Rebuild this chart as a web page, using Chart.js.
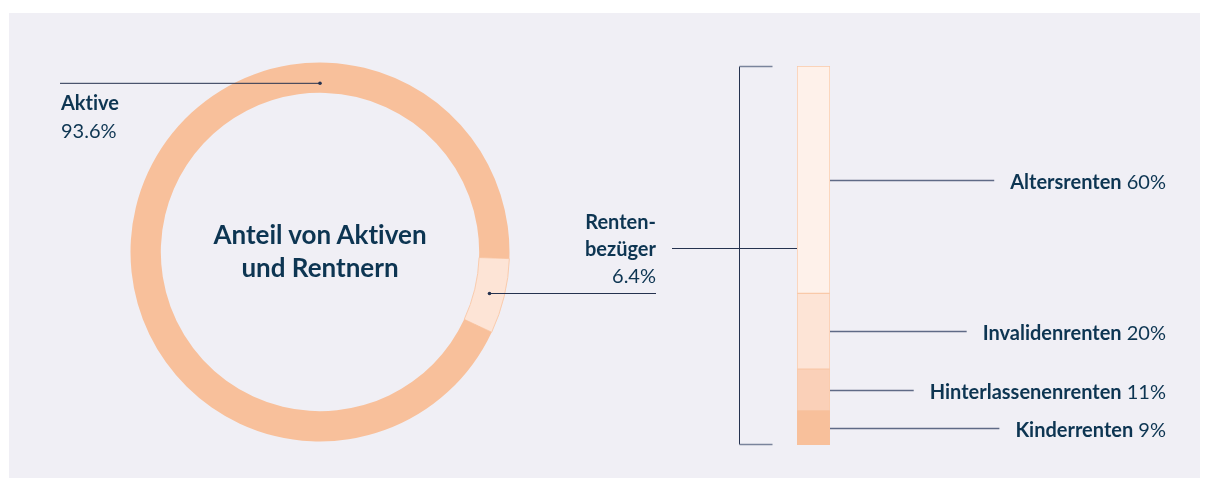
<!DOCTYPE html>
<html>
<head>
<meta charset="UTF-8">
<title>Anteil von Aktiven und Rentnern</title>
<script src="https://cdn.jsdelivr.net/npm/chart.js"></script>
<style>
  body { margin: 0; background: #fff; width: 1210px; height: 488px; overflow: hidden;
         font-family: Lato, "Open Sans", sans-serif; color: #0d3552;
         font-variant-ligatures: none; }
  .panel { position: absolute; left: 9px; top: 13px; width: 1191px; height: 465px; background: #f0eff5; }
  canvas { position: absolute; }
  .lbl { position: absolute; font-size: 20px; line-height: 28px; white-space: nowrap; }
  .lbl b { font-weight: 700; }
  .right { text-align: right; }
  .title { position: absolute; left: 150px; width: 340px; top: 218px; text-align: center;
           font-size: 26px; font-weight: 700; line-height: 33px; }
</style>
</head>
<body>
<div class="panel"></div>
<canvas id="ring" width="690" height="466" style="left:10px;top:12px"></canvas>
<canvas id="stack" width="550" height="466" style="left:650px;top:12px"></canvas>

<div class="title">Anteil von Aktiven<br>und Rentnern</div>
<div class="lbl" style="left:61px;top:88px"><b>Aktive</b><br>93.6%</div>
<div class="lbl right" style="right:554px;top:208px;line-height:27px"><b>Renten-<br>bezüger</b><br>6.4%</div>
<div id="barLabels"></div>

<script>
  // Anteil Aktive / Rentenbezüger (%)
  const ringLabels = ['Rentenbezüger', 'Aktive'];
  const ringValues = [6.4, 93.6];
  const ringColors = ['#fde4d6', '#f8c09b'];

  // Aufteilung der Renten (%), von unten nach oben
  const rentLabels = ['Kinderrenten', 'Hinterlassenenrenten', 'Invalidenrenten', 'Altersrenten'];
  const rentValues = [9, 11, 20, 60];
  const rentColors = ['#f8c09b', '#fad0b8', '#fde4d6', '#fef1ea'];

  const lineDark = '#25324f';
  const lineGray = '#5f6a86';

  // Ring-Diagramm mit Hinweislinien
  const ringLines = {
    id: 'ringLines',
    afterDraw(chart) {
      const ctx = chart.ctx;
      const arcs = chart.getDatasetMeta(0).data;
      const a0 = arcs[1];
      const a1 = arcs[0];
      ctx.save();
      ctx.strokeStyle = lineDark;
      ctx.fillStyle = lineDark;
      ctx.lineWidth = 1;
      // Aktive: Punkt oben im Ring
      const r0 = a0.innerRadius + 10;
      const p0 = { x: a0.x, y: a0.y - r0 };
      ctx.beginPath();
      ctx.moveTo(50, p0.y + 0.5);
      ctx.lineTo(p0.x, p0.y + 0.5);
      ctx.stroke();
      ctx.beginPath(); ctx.arc(p0.x, p0.y + 0.5, 1.8, 0, Math.PI * 2); ctx.fill();
      // Rentenbezüger: Punkt in der Mitte des kleinen Segments
      const mid = (a1.startAngle + a1.endAngle) / 2;
      const r1 = (a1.innerRadius + a1.outerRadius) / 2;
      const p1 = { x: a1.x + Math.cos(mid) * r1, y: Math.round(a1.y + Math.sin(mid) * r1) + 0.5 };
      ctx.beginPath();
      ctx.moveTo(p1.x, p1.y);
      ctx.lineTo(646, p1.y);
      ctx.stroke();
      ctx.beginPath(); ctx.arc(p1.x, p1.y, 1.8, 0, Math.PI * 2); ctx.fill();
      ctx.restore();
    }
  };

  new Chart(document.getElementById('ring'), {
    type: 'doughnut',
    data: {
      labels: ringLabels,
      datasets: [{
        data: ringValues,
        backgroundColor: ringColors,
        borderColor: ['#f9cbad', '#f8c09b'],
        borderWidth: [1, 0]
      }]
    },
    options: {
      responsive: false,
      animation: false,
      rotation: 92,
      cutout: '84%',
      layout: { padding: { left: 120, top: 50, right: 190, bottom: 36 } },
      plugins: { legend: { display: false }, tooltip: { enabled: false } }
    },
    plugins: [ringLines]
  });

  // Beschriftungen rechts der Säule
  const labelBox = document.getElementById('barLabels');
  const labelEls = rentLabels.map((name, i) => {
    const d = document.createElement('div');
    d.className = 'lbl right';
    d.style.right = '44px';
    d.innerHTML = '<b>' + name + '</b> ' + rentValues[i] + '%';
    labelBox.appendChild(d);
    return d;
  });

  const stackLines = {
    id: 'stackLines',
    afterDraw(chart) {
      const ctx = chart.ctx;
      const area = chart.chartArea;
      const canvasLeft = chart.canvas.getBoundingClientRect().left;
      const canvasTop = chart.canvas.getBoundingClientRect().top;
      ctx.save();
      ctx.lineWidth = 1;
      // Klammer links
      const bx = area.left - 57.5;
      ctx.strokeStyle = lineDark;
      ctx.beginPath();
      ctx.moveTo(bx, area.top + 0.5);
      ctx.lineTo(bx, area.bottom - 0.5);
      ctx.stroke();
      ctx.strokeStyle = '#7a849b';
      ctx.lineWidth = 1.5;
      ctx.beginPath();
      ctx.moveTo(bx, area.top + 0.5); ctx.lineTo(bx + 33, area.top + 0.5);
      ctx.moveTo(bx, area.bottom - 0.5); ctx.lineTo(bx + 33, area.bottom - 0.5);
      ctx.stroke();
      // Verbindung zur Beschriftung Rentenbezüger
      ctx.lineWidth = 1;
      ctx.strokeStyle = lineDark;
      const cy = Math.round(area.top + (area.bottom - area.top) * 0.48) + 0.5;
      ctx.beginPath();
      ctx.moveTo(22, cy); ctx.lineTo(area.left, cy);
      ctx.stroke();
      // Linien zu den Segmenten
      ctx.strokeStyle = lineGray;
      ctx.lineWidth = 1.3;
      chart.data.datasets.forEach((ds, i) => {
        const bar = chart.getDatasetMeta(i).data[0];
        const y = Math.round((bar.y + bar.base) / 2) + 0.5;
        const el = labelEls[i];
        el.style.top = (canvasTop + y - 14) + 'px';
        const endX = el.getBoundingClientRect().left - canvasLeft - 16;
        ctx.beginPath();
        ctx.moveTo(area.right, y); ctx.lineTo(endX, y);
        ctx.stroke();
      });
      ctx.restore();
    }
  };

  new Chart(document.getElementById('stack'), {
    type: 'bar',
    data: {
      labels: ['Renten'],
      datasets: rentLabels.map((name, i) => ({
        label: name,
        data: [rentValues[i]],
        backgroundColor: rentColors[i],
        borderColor: '#f9c9a9',
        borderWidth: i === 0 ? 0 : 1,
        borderSkipped: false,
        barPercentage: 1,
        categoryPercentage: 1
      }))
    },
    options: {
      responsive: false,
      animation: false,
      layout: { padding: { left: 147, top: 54, right: 370, bottom: 33 } },
      scales: {
        x: { stacked: true, display: false },
        y: { stacked: true, display: false, min: 0, max: 100 }
      },
      plugins: { legend: { display: false }, tooltip: { enabled: false } }
    },
    plugins: [stackLines]
  });
</script>
</body>
</html>
